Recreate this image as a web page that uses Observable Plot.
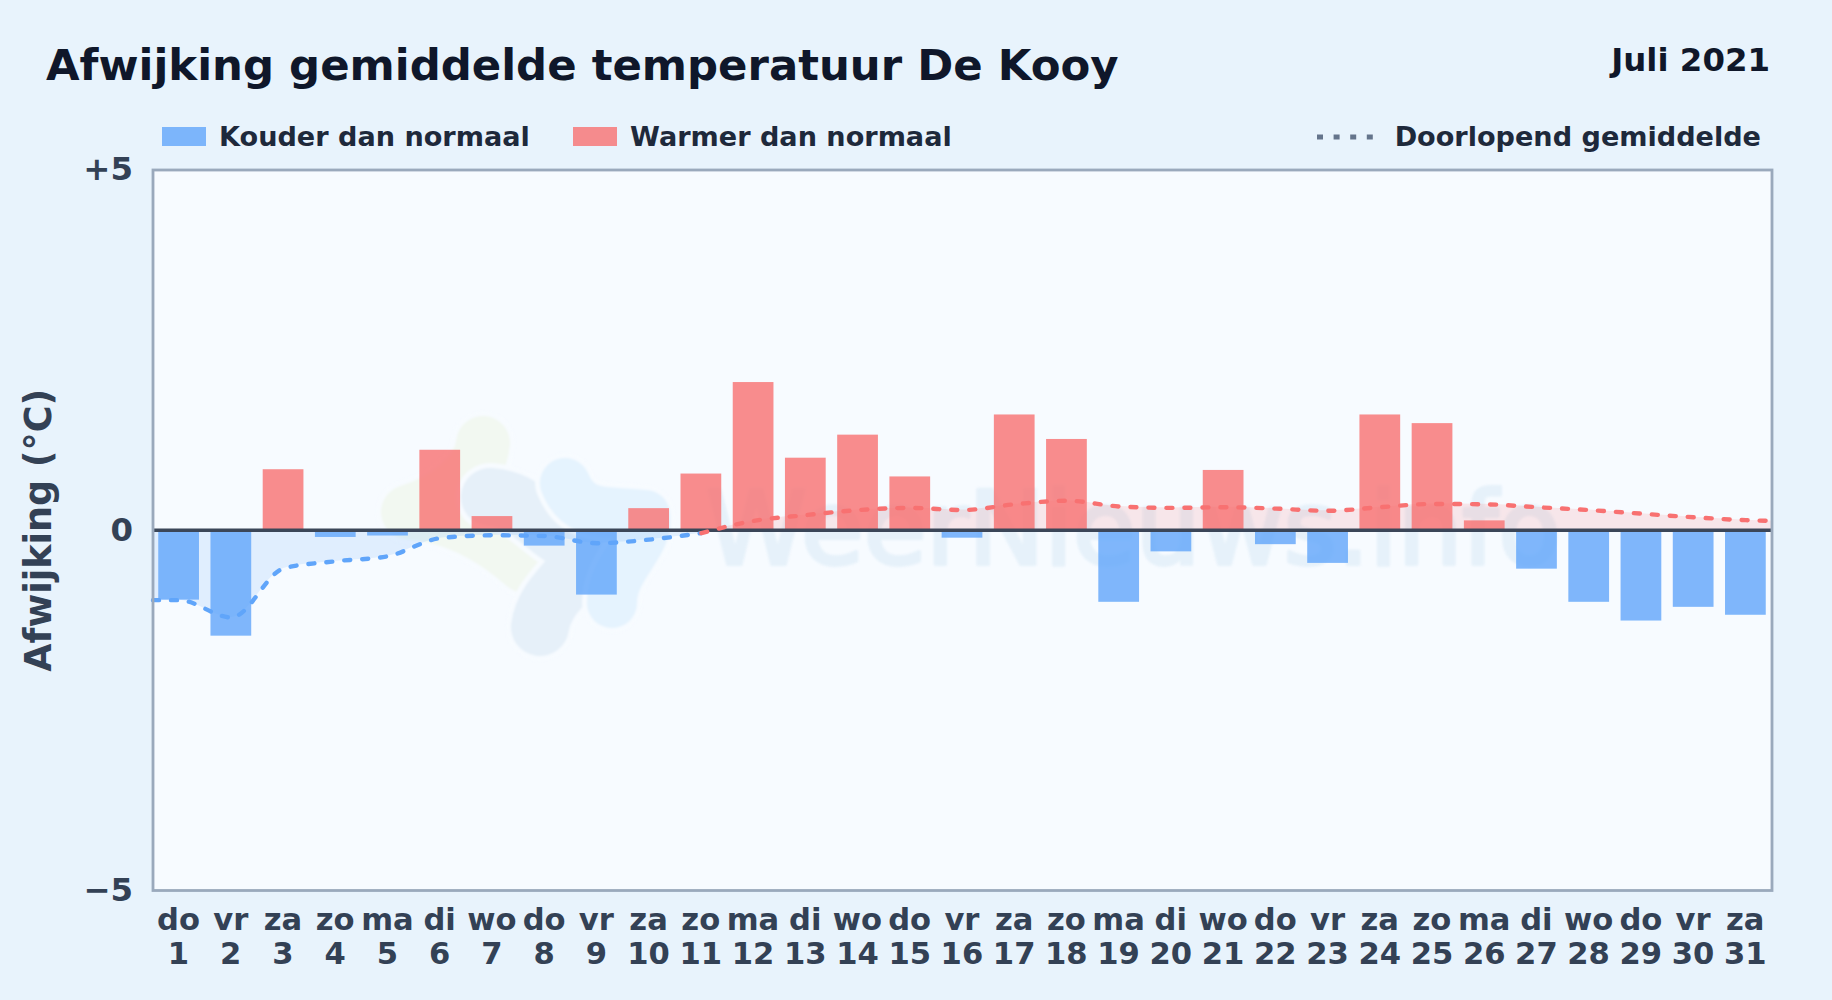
<!DOCTYPE html>
<html lang="nl">
<head>
<meta charset="utf-8">
<title>Afwijking gemiddelde temperatuur De Kooy</title>
<script src="https://cdn.jsdelivr.net/npm/d3@7"></script>
<script src="https://cdn.jsdelivr.net/npm/@observablehq/plot@0.6"></script>
<style>
  html, body { margin: 0; padding: 0; background: #e8f3fc; }
  body { width: 1832px; height: 1000px; overflow: hidden; position: relative;
         font-family: "DejaVu Sans", sans-serif; font-weight: 700; }
  .hdr { position: absolute; white-space: nowrap; line-height: 1; }
  #title { left: 46px; top: 43.5px; font-size: 43.4px; color: #0f172a; }
  #period { right: 62px; top: 43.5px; font-size: 32.4px; color: #0f172a; }
  .lg { top: 123px; font-size: 27.1px; color: #1e293b; }
  .sw { position: absolute; top: 127px; width: 44px; height: 19px; }
  #chart { position: absolute; left: 0; top: 150px; }
</style>
</head>
<body>
<div id="title" class="hdr">Afwijking gemiddelde temperatuur De Kooy</div>
<div id="period" class="hdr">Juli 2021</div>
<div class="sw" style="left:162px;background:#60a5fa;opacity:.8"></div>
<div class="hdr lg" style="left:219px">Kouder dan normaal</div>
<div class="sw" style="left:573px;background:#f87171;opacity:.8"></div>
<div class="hdr lg" style="left:630px">Warmer dan normaal</div>
<svg style="position:absolute;left:1316px;top:130px" width="60" height="14"><line x1="1" x2="58" y1="7" y2="7" stroke="#64748b" stroke-width="5" stroke-dasharray="6 10.6"/></svg>
<div class="hdr lg" style="right:71px">Doorlopend gemiddelde</div>
<div id="chart"></div>
<script>
const days = d3.range(1, 32);
const weekdays = ["do","vr","za","zo","ma","di","wo","do","vr","za","zo","ma","di","wo","do","vr","za","zo","ma","di","wo","do","vr","za","zo","ma","di","wo","do","vr","za"];
const deviation = [-0.97,-1.47,0.84,-0.1,-0.08,1.11,0.19,-0.22,-0.9,0.3,0.78,2.05,1.0,1.32,0.74,-0.11,1.6,1.26,-1.0,-0.3,0.83,-0.2,-0.46,1.6,1.48,0.13,-0.54,-1.0,-1.26,-1.07,-1.18];
const coldDays = [0.5,1,2,3,4,5,6,7,8,9,10,11];
const coldMean = [-0.97,-0.97,-1.21,-0.53,-0.43,-0.36,-0.11,-0.07,-0.08,-0.18,-0.13,-0.04];
const warmDays = [11,12,13,14,15,16,17,18,19,20,21,22,23,24,25,26,27,28,29,30,31,31.5];
const warmMean = [-0.04,0.13,0.21,0.28,0.31,0.28,0.36,0.41,0.33,0.31,0.32,0.3,0.27,0.32,0.365,0.36,0.32,0.28,0.23,0.18,0.14,0.13];
const yTicks = [-5, 0, 5];
const yLabels = {"-5": "\u22125", "0": "0", "5": "+5"};
const barHalf = 0.39;

const cold = coldDays.map((x, i) => ({x, y: coldMean[i]}));
const warm = warmDays.map((x, i) => ({x, y: warmMean[i]}));
const bars = days.map((d, i) => ({d, v: deviation[i]}));

// decorative logo blobs and wordmark behind the data
function watermark(index, scales, values, dim) {
  const g = d3.create("svg:g").attr("transform", "translate(0,-150)");
  const blobs = [
    ["M483 443 C480 475 445 500 408 512 C450 515 490 535 525 566", "#f2f8f1", 54],
    ["M490 497 C530 500 540 530 582 548 C585 575 545 590 540 627", "#e6f0f9", 58],
    ["M565 483 C580 520 610 510 645 515 C650 545 612 565 612 603", "#e5f3fe", 50]
  ];
  const f = g.append("g").style("filter", "blur(1px)");
  for (const [d, c, w] of blobs) {
    f.append("path").attr("d", d).attr("fill", "none").attr("stroke", "#f7fbff").attr("stroke-width", w + 10).attr("stroke-linecap", "round").attr("stroke-linejoin", "round");
    f.append("path").attr("d", d).attr("fill", "none").attr("stroke", c).attr("stroke-width", w).attr("stroke-linecap", "round").attr("stroke-linejoin", "round");
  }
  f.append("text").text("WeerNieuws.info").attr("x", 706).attr("y", 564).attr("text-anchor", "start")
    .attr("font-size", 102).attr("font-weight", 400).attr("fill", "#e6f1fa").attr("font-family", "DejaVu Sans")
    .attr("stroke", "#e6f1fa").attr("stroke-width", 4).attr("stroke-linejoin", "round");
  return g.node();
}

const chart = Plot.plot({
  width: 1832,
  height: 850,
  marginLeft: 152.5,
  marginRight: 60.5,
  marginTop: 19.5,
  marginBottom: 110,
  style: {background: "transparent", fontFamily: "DejaVu Sans", overflow: "visible"},
  x: {type: "linear", domain: [0.5, 31.5]},
  y: {domain: [-5, 5]},
  marks: [
    Plot.frame({fill: "#f7fbff", stroke: "none"}),
    watermark,
    Plot.areaY(cold, {x: "x", y1: 0, y2: "y", fill: "#60a5fa", fillOpacity: 0.15, curve: "monotone-x"}),
    Plot.areaY(warm, {x: "x", y1: 0, y2: "y", fill: "#f87171", fillOpacity: 0.15, curve: "monotone-x"}),
    Plot.rect(bars.filter(b => b.v < 0), {x1: b => b.d - barHalf, x2: b => b.d + barHalf, y1: 0, y2: "v", fill: "#60a5fa", fillOpacity: 0.8}),
    Plot.rect(bars.filter(b => b.v >= 0), {x1: b => b.d - barHalf, x2: b => b.d + barHalf, y1: 0, y2: "v", fill: "#f87171", fillOpacity: 0.8}),
    Plot.ruleY([0], {stroke: "#3b4658", strokeWidth: 3.5}),
    Plot.line(cold, {x: "x", y: "y", stroke: "#60a5fa", strokeWidth: 4.4, strokeDasharray: "6 12", strokeLinecap: "round", curve: "monotone-x"}),
    Plot.line(warm, {x: "x", y: "y", stroke: "#f87171", strokeWidth: 4.4, strokeDasharray: "6 12", strokeLinecap: "round", curve: "monotone-x"}),
    Plot.frame({stroke: "#9aa9bc", strokeWidth: 2.8}),
    Plot.axisY({ticks: yTicks, tickSize: 0, tickPadding: 20, label: null, tickFormat: d => yLabels[d], fontSize: 32.4, fontWeight: 700, fill: "#334155"}),
    Plot.axisX({ticks: days, tickSize: 0, tickPadding: 15, dx: -0.6, label: null, tickFormat: d => `${weekdays[d - 1]}\n${d}`, fontSize: 30.6, fontWeight: 700, fill: "#334155", lineHeight: 1.11}),
    Plot.text(["Afwijking (\u00b0C)"], {frameAnchor: "left", textAnchor: "middle", dx: -114, rotate: -90, fontSize: 36.5, fontWeight: 700, fill: "#334155"})
  ]
});
document.getElementById("chart").appendChild(chart);
</script>
</body>
</html>
